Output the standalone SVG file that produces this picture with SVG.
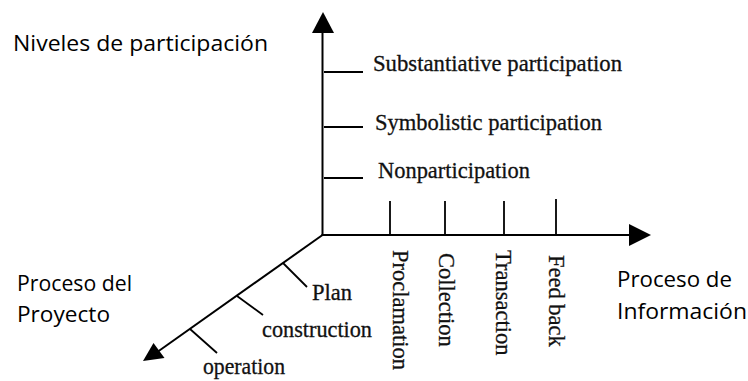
<svg xmlns="http://www.w3.org/2000/svg" width="748" height="381" viewBox="0 0 748 381">
<defs>
<style>
.ax{stroke:#000;stroke-width:2;fill:none}
.tk{stroke:#000;stroke-width:1.8;fill:none}
.hd{fill:#000;stroke:none}
.serif{font-family:"Liberation Serif","Times New Roman",serif;font-size:22.5px;fill:#111;stroke:#111;stroke-width:0.3}
.sans{font-family:"Open Sans","Noto Sans",sans-serif;font-size:22px;fill:#000}
</style>
</defs>
<rect width="748" height="381" fill="#fff"/>
<g id="connectors">
<line class="ax" x1="322.5" y1="236" x2="322.5" y2="30"/>
<polygon class="hd" points="323,12 312,33 334,33"/>
<line class="ax" x1="321.5" y1="235" x2="631" y2="235"/>
<polygon class="hd" points="651,235 629,224 629,246"/>
<line class="ax" x1="322.5" y1="235" x2="158" y2="351.5"/>
<polygon class="hd" points="143,361 153.5,343 164.5,358"/>
</g>
<g id="vertical-ticks">
<line class="tk" x1="324" y1="72" x2="363" y2="72"/>
<line class="tk" x1="324" y1="127" x2="363" y2="127"/>
<line class="tk" x1="324" y1="178" x2="363" y2="178"/>
</g>
<g id="horizontal-ticks">
<line class="tk" x1="390" y1="201" x2="390" y2="235"/>
<line class="tk" x1="445" y1="201" x2="445" y2="235"/>
<line class="tk" x1="504" y1="201" x2="504" y2="235"/>
<line class="tk" x1="556" y1="199" x2="556" y2="235"/>
</g>
<g id="diagonal-ticks">
<line class="tk" x1="283" y1="263" x2="307" y2="287"/>
<line class="tk" x1="237" y1="296" x2="263" y2="315"/>
<line class="tk" x1="190" y1="329" x2="217" y2="353"/>
</g>
<g id="node-substantiative"><text class="serif" x="373" y="70.5" textLength="249" lengthAdjust="spacingAndGlyphs">Substantiative participation</text></g>
<g id="node-symbolistic"><text class="serif" x="375" y="129.5" textLength="227" lengthAdjust="spacingAndGlyphs">Symbolistic participation</text></g>
<g id="node-nonparticipation"><text class="serif" x="378" y="177.5" textLength="152" lengthAdjust="spacingAndGlyphs">Nonparticipation</text></g>
<g id="node-proclamation"><text class="serif" transform="translate(393,250) rotate(90)" x="0" y="0">Proclamation</text></g>
<g id="node-collection"><text class="serif" transform="translate(439,253) rotate(90)" x="0" y="0">Collection</text></g>
<g id="node-transaction"><text class="serif" transform="translate(496,250) rotate(90)" x="0" y="0">Transaction</text></g>
<g id="node-feedback"><text class="serif" transform="translate(549,255) rotate(90)" x="0" y="0">Feed back</text></g>
<g id="node-plan"><text class="serif" x="312" y="300">Plan</text></g>
<g id="node-construction"><text class="serif" x="262" y="337" textLength="110" lengthAdjust="spacingAndGlyphs">construction</text></g>
<g id="node-operation"><text class="serif" x="203" y="374" textLength="82" lengthAdjust="spacingAndGlyphs">operation</text></g>
<g id="label-niveles"><text class="sans" x="13" y="51" textLength="255" lengthAdjust="spacingAndGlyphs">Niveles de participación</text></g>
<g id="label-proyecto">
<text class="sans" x="17" y="291" textLength="115" lengthAdjust="spacingAndGlyphs">Proceso del</text>
<text class="sans" x="17" y="322" textLength="93" lengthAdjust="spacingAndGlyphs">Proyecto</text>
</g>
<g id="label-informacion">
<text class="sans" x="617" y="287" textLength="115" lengthAdjust="spacingAndGlyphs">Proceso de</text>
<text class="sans" x="617" y="318.5" textLength="130" lengthAdjust="spacingAndGlyphs">Información</text>
</g>
</svg>
